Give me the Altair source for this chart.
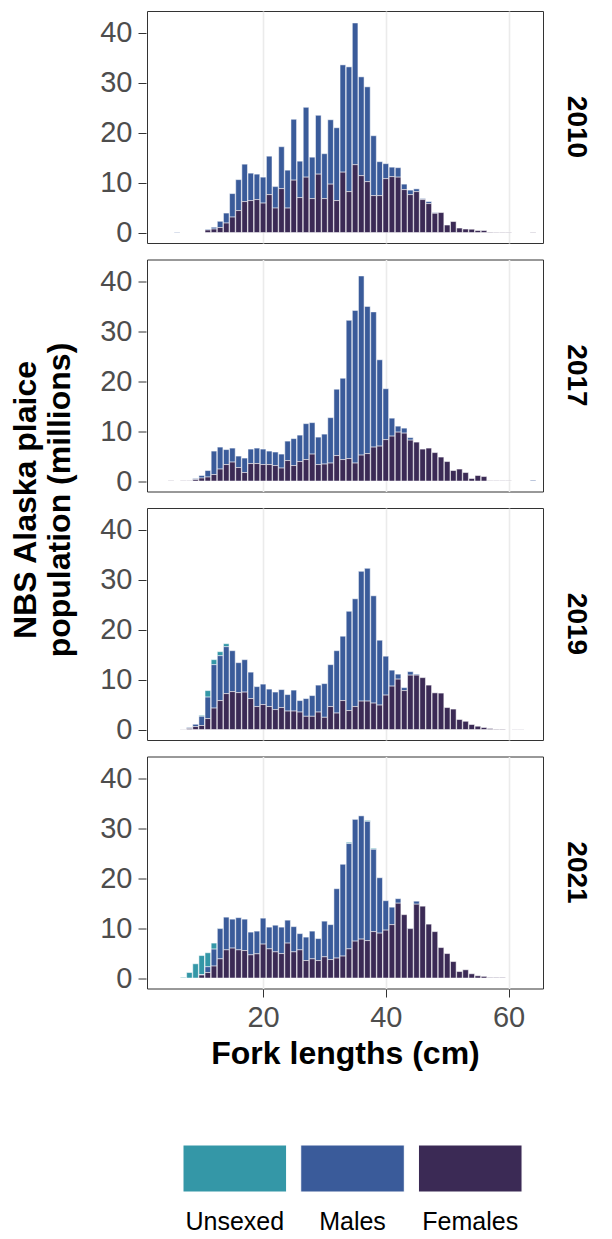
import altair as alt
import pandas as pd

YEARS = ["2010", "2017", "2019", "2021"]
LENGTHS = list(range(5, 65))  # fork length bins, cm
SEXES = ["Unsexed", "Males", "Females"]
COLORS = ["#3497A7", "#3A5B9A", "#3B2A55"]

# population (millions) per 1-cm bin, lengths 5..64
F2010 = [0, 0, 0, 0, 0, 0, 0.5, 0.7, 1.0, 1.9,
         3.1, 4.4, 6.2, 6.4, 6.6, 5.9, 7.6, 4.9, 8.8, 4.9,
         10.5, 7.0, 11.1, 6.8, 11.7, 6.8, 9.7, 6.4, 12.1, 8.2,
         13.6, 11.4, 10.2, 7.4, 7.4, 10.8, 11.2, 11.1, 8.6, 7.6,
         8.2, 6.6, 5.8, 3.85, 4.0, 1.5, 2.2, 0.9, 0.7, 0.66,
         0.4, 0.4, 0.1, 0.08, 0.08, 0.08, 0, 0, 0, 0.08]
M2010 = [0, 0.1, 0, 0, 0, 0, 0.16, 0.36, 1.25, 2.0,
         4.7, 6.2, 7.5, 5.5, 5.1, 5.2, 7.7, 4.3, 8.4, 7.6,
         12.2, 7.3, 14.0, 8.3, 11.8, 9.0, 12.9, 14.6, 21.5, 25.0,
         28.4, 19.8, 19.0, 12.0, 6.8, 3.0, 1.9, 1.9, 1.1, 0.9,
         0.55, 0.2, 0.4, 0.15, 0, 0, 0, 0, 0, 0,
         0, 0, 0, 0, 0, 0, 0, 0, 0, 0]
U2010 = [0] * 60

F2017 = [0.05, 0, 0.05, 0.05, 0.3, 0.6, 0.8, 1.3, 2.4, 3.3,
         3.8, 2.7, 1.7, 3.5, 3.5, 3.3, 3.3, 3.1, 2.6, 4.1,
         3.1, 3.9, 4.3, 5.4, 3.3, 3.4, 3.6, 5.1, 4.3, 4.5,
         3.6, 5.2, 5.5, 6.8, 7.0, 8.3, 9.0, 9.8, 9.6, 8.2,
         7.8, 6.4, 6.6, 5.7, 4.8, 3.9, 2.1, 2.4, 1.7, 0.5,
         1.1, 0.9, 0.05, 0.05, 0.05, 0.05, 0, 0, 0, 0]
M2017 = [0, 0, 0, 0, 0.2, 0.5, 1.3, 4.7, 4.4, 3.0,
         2.8, 2.3, 2.9, 2.9, 3.1, 3.1, 2.7, 2.7, 2.8, 3.9,
         5.4, 5.3, 7.2, 6.3, 5.5, 6.0, 9.1, 13.3, 16.3, 27.7,
         30.6, 35.9, 29.5, 27.1, 17.3, 10.2, 3.6, 1.2, 1.0, 0.5,
         0, 0, 0, 0, 0, 0, 0, 0, 0, 0,
         0, 0, 0, 0, 0, 0, 0, 0, 0, 0.15]
U2017 = [0] * 60

F2019 = [0, 0, 0.05, 0.2, 0.6, 0.8, 2.2, 4.3, 5.8, 7.2,
         7.6, 7.4, 7.5, 6.2, 4.6, 5.0, 4.6, 4.0, 4.4, 3.7,
         3.7, 3.5, 2.65, 2.65, 3.5, 2.45, 4.6, 3.3, 5.8, 3.8,
         4.6, 5.7, 5.7, 5.3, 4.9, 6.9, 8.7, 10.1, 7.8, 10.9,
         10.9, 10.4, 8.9, 7.35, 7.3, 4.4, 4.1, 2.0, 1.65, 1.0,
         0.66, 0.4, 0.2, 0.1, 0.1, 0, 0.05, 0.05, 0, 0]
M2019 = [0, 0, 0, 0.2, 0.45, 1.85, 4.3, 8.7, 9.0, 9.4,
         8.2, 6.0, 6.5, 5.3, 4.0, 4.1, 3.5, 3.5, 3.6, 3.3,
         4.2, 2.3, 3.55, 4.15, 5.4, 6.75, 8.4, 12.5, 12.9, 19.9,
         21.6, 26.0, 26.6, 21.5, 13.0, 7.8, 3.2, 1.0, 0.6, 0.7,
         0.2, 0, 0, 0, 0, 0, 0, 0, 0, 0,
         0, 0, 0, 0, 0, 0, 0, 0, 0, 0]
U2019 = [0, 0, 0, 0, 0, 0.2, 1.3, 1.0, 0.8, 0.6,
         0, 0, 0, 0, 0, 0, 0, 0, 0, 0,
         0, 0, 0, 0, 0, 0, 0, 0, 0, 0,
         0, 0, 0, 0, 0, 0, 0, 0, 0, 0,
         0, 0, 0, 0, 0, 0, 0, 0, 0, 0,
         0, 0, 0, 0, 0, 0, 0, 0, 0, 0]

F2021 = [0, 0, 0, 0, 0, 0.6, 1.1, 2.4, 3.85, 5.65,
         6.0, 5.65, 5.5, 4.65, 4.85, 6.8, 5.85, 5.25, 4.9, 7.0,
         5.25, 5.65, 3.5, 3.85, 3.5, 4.25, 3.7, 4.0, 4.4, 5.85,
         7.4, 7.8, 7.5, 9.3, 9.0, 9.6, 10.7, 15.0, 12.7, 9.9,
         14.8, 14.4, 10.8, 9.3, 6.1, 4.9, 3.3, 1.3, 1.65, 0.85,
         0.45, 0.33, 0.1, 0.1, 0.1, 0, 0, 0, 0, 0]
M2021 = [0, 0, 0, 0, 0, 0.06, 1.16, 3.4, 6.05, 6.55,
         5.8, 6.45, 6.3, 4.55, 4.55, 5.2, 4.35, 5.35, 5.3, 4.6,
         5.05, 3.25, 4.7, 5.55, 4.4, 7.15, 7.0, 13.9, 18.4, 21.1,
         24.4, 24.7, 23.9, 16.5, 11.1, 5.9, 3.5, 0.9, 0, 0.1,
         0.6, 0, 0, 0, 0, 0, 0, 0, 0, 0,
         0, 0, 0, 0, 0, 0, 0, 0, 0, 0]
U2021 = [0, 0, 0.13, 1.1, 2.85, 3.84, 2.8, 1.2, 0.1, 0,
         0, 0, 0, 0, 0, 0, 0, 0, 0, 0,
         0, 0, 0, 0, 0, 0, 0, 0, 0, 0.25,
         0, 0, 0.2, 0.2, 0, 0, 0, 0, 0, 0,
         0, 0, 0, 0, 0, 0, 0, 0, 0, 0,
         0, 0, 0, 0, 0, 0, 0, 0, 0, 0]

SERIES = {
    "2010": (U2010, M2010, F2010),
    "2017": (U2017, M2017, F2017),
    "2019": (U2019, M2019, F2019),
    "2021": (U2021, M2021, F2021),
}
STACK = {"Females": 0, "Males": 1, "Unsexed": 2}

rows = []
for yr in YEARS:
    u, m, f = SERIES[yr]
    for i, L in enumerate(LENGTHS):
        for sex, vals in (("Unsexed", u), ("Males", m), ("Females", f)):
            if vals[i] > 0:
                rows.append({"year": yr, "length": L, "sex": sex,
                             "pop": vals[i], "so": STACK[sex]})
df = pd.DataFrame(rows)

FONT = "Liberation Sans"

bars = alt.Chart(df).mark_bar(size=5.6, stroke="white", strokeWidth=0.5).encode(
    x=alt.X("length:Q",
            scale=alt.Scale(domain=[1.9, 64.8], nice=False, zero=False),
            axis=alt.Axis(values=[20, 40, 60], title="Fork lengths (cm)",
                          grid=True, gridColor="#EBEBEB", gridWidth=1.6,
                          titleFontSize=32, titleFontWeight="bold",
                          titleColor="black", titlePadding=6,
                          labelPadding=6)),
    y=alt.Y("pop:Q", stack="zero",
            scale=alt.Scale(domain=[-2.1, 44.4], nice=False, zero=False),
            axis=alt.Axis(values=[0, 10, 20, 30, 40], grid=False, title=None,
                          labelPadding=6)),
    color=alt.Color("sex:N", scale=alt.Scale(domain=SEXES, range=COLORS),
                    legend=None),
    order=alt.Order("so:Q", sort="ascending"),
).properties(width=396, height=232)

facet = bars.facet(
    row=alt.Row("year:N", sort=YEARS, header=alt.Header(
        labelOrient="right", labelAngle=90, labelFontSize=28,
        labelFontWeight="bold", labelColor="black", labelPadding=18,
        labelFont=FONT,
        title=["NBS Alaska plaice", "population (millions)"],
        titleOrient="left", titleAngle=-90, titleFontSize=32,
        titleFontWeight="bold", titleColor="black", titleFont=FONT,
        titlePadding=-20, titleLineHeight=34)),
    spacing=14.5,
)

legend = alt.Chart(pd.DataFrame({"sex": SEXES})).mark_rect(
    stroke="white", strokeWidth=1
).encode(
    x=alt.X("sex:N", sort=SEXES,
            scale=alt.Scale(paddingInner=0.12, paddingOuter=0.242, align=0.632),
            axis=alt.Axis(title=None, domain=False, ticks=False, labelAngle=0,
                          labelFontSize=25, labelColor="black", labelPadding=17)),
    color=alt.Color("sex:N", scale=alt.Scale(domain=SEXES, range=COLORS),
                    legend=None),
).properties(width=396, height=47, view=alt.ViewBackground(strokeOpacity=0))

chart = alt.vconcat(facet, legend, spacing=75).properties(
    padding={"left": 1, "top": 2, "right": 2, "bottom": 5}
).configure(font=FONT).configure_view(
    stroke="#333333", strokeWidth=1
).configure_axis(
    labelFontSize=29, labelColor="#4D4D4D", labelFont=FONT, titleFont=FONT,
    tickColor="#333333", tickSize=8, tickWidth=1, domain=False
)

chart.save("out.html", embed_options={"renderer": "svg", "actions": False})
